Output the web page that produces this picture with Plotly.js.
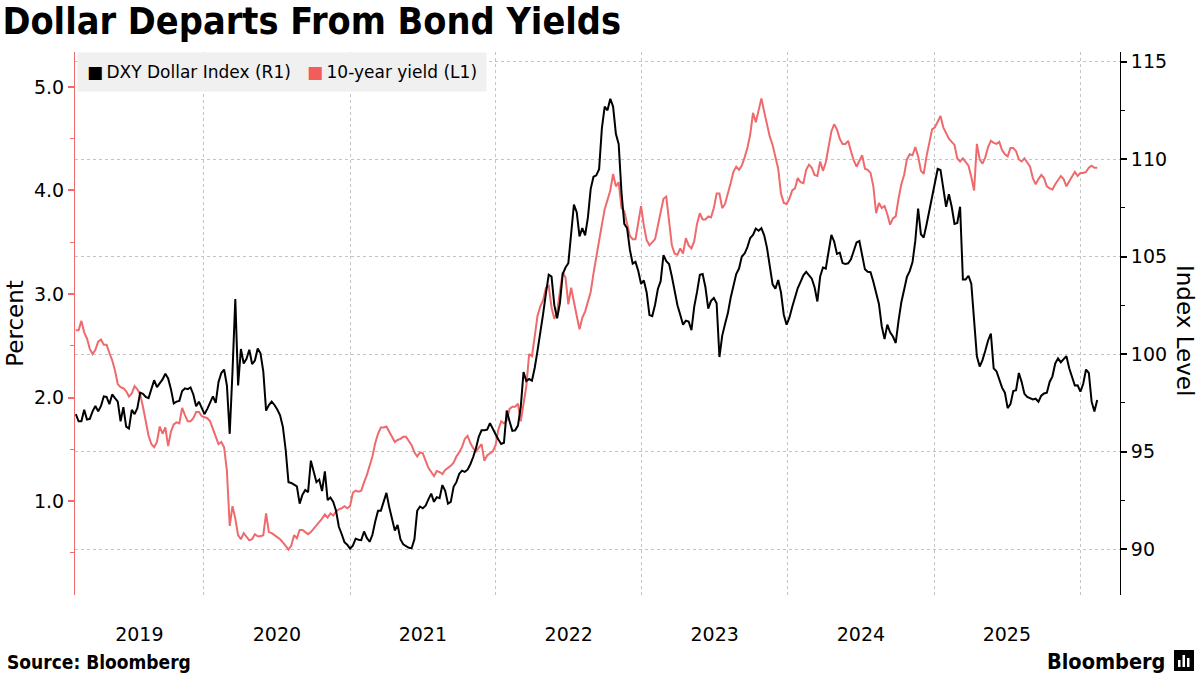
<!DOCTYPE html>
<html><head><meta charset="utf-8">
<script src="https://cdn.plot.ly/plotly-3.0.1.min.js"></script>
<style>html,body{margin:0;padding:0;background:#fff;}#chart{width:1200px;height:675px;}</style>
</head><body><div id="chart"></div>
<script>
// Weekly observations, first one on this date
const seriesStart = '2019-02-15';
const weekStepDays = 7;

// DXY Dollar Index (right axis), weekly
const dxyValues = [
96.92,96.55,96.55,97.14,96.64,96.68,97.06,97.34,97.06,97.34,
97.83,97.80,97.43,97.93,97.74,97.56,96.55,97.28,96.28,96.18,
97.14,96.92,97.23,98.02,97.96,97.80,97.74,98.20,98.66,98.31,
98.48,98.70,98.99,98.75,98.20,97.47,97.56,97.60,98.11,98.24,
98.20,98.29,97.93,97.32,97.56,97.19,96.92,97.19,97.52,97.83,
97.50,98.57,99.03,99.21,98.39,95.91,99.12,102.83,98.39,100.26,
99.52,99.76,100.22,99.49,99.67,100.29,100.04,99.12,97.10,97.38,
97.56,97.39,97.16,96.86,96.26,95.08,93.43,93.39,93.30,93.21,
92.33,92.79,93.03,92.92,94.53,93.98,93.43,93.56,92.97,93.98,
92.51,92.64,92.42,91.96,91.14,90.77,90.35,90.22,90.02,90.17,
90.53,90.48,90.46,90.90,90.57,90.37,90.73,91.41,91.96,91.96,
92.40,92.88,92.15,91.56,90.95,91.23,90.50,90.24,90.13,90.06,
90.04,90.50,91.96,92.18,92.09,92.22,92.55,92.84,92.42,92.66,
92.61,93.28,92.99,92.33,92.42,93.19,93.43,93.85,94.02,93.96,
94.07,94.35,94.72,95.17,95.76,96.09,96.09,96.12,96.46,96.14,
95.89,95.62,95.39,95.45,97.10,96.55,96.06,96.09,96.33,97.28,
99.08,98.61,98.72,98.64,99.30,100.18,101.01,102.06,103.12,104.07,
103.98,102.51,101.84,102.61,104.11,104.44,104.66,106.24,107.67,107.28,
106.04,106.46,106.09,107.01,108.48,109.10,109.17,109.49,111.60,112.70,
112.51,113.10,112.70,111.30,110.77,108.29,106.68,106.46,105.36,104.64,
104.73,104.26,103.60,103.78,103.16,102.00,101.95,102.53,103.34,103.74,
105.08,104.77,104.62,103.98,103.23,102.51,102.02,101.51,101.71,101.67,
101.23,102.44,103.19,104.07,104.11,103.43,102.33,102.73,102.88,102.61,
99.85,100.95,101.54,102.09,102.88,103.56,104.11,104.39,105.01,105.16,
105.49,105.96,106.11,106.44,106.33,106.46,106.09,105.45,104.62,103.58,
103.36,103.80,103.16,102.02,101.51,101.87,102.42,102.88,103.39,103.71,
104.04,104.22,104.07,103.87,103.43,102.70,103.98,104.44,104.39,105.36,
106.11,105.78,105.14,105.21,104.68,104.62,104.66,104.86,105.27,105.73,
105.80,105.05,104.35,104.22,104.20,103.71,103.08,102.57,101.43,100.77,
101.51,101.12,100.90,100.57,101.71,102.66,103.30,103.96,104.26,104.72,
105.82,107.47,106.15,105.98,106.64,107.32,108.02,108.84,109.50,109.45,
108.39,107.56,108.20,107.56,106.68,106.73,107.56,103.83,103.83,104.02,
103.61,101.96,99.89,99.36,99.69,100.17,100.70,101.05,99.27,99.12,
98.72,98.28,98.02,97.23,97.43,98.11,98.15,99.03,98.57,97.96,
97.80,97.74,97.67,97.71,97.56,97.87,97.98,98.02,98.57,98.86,
99.52,99.78,99.58,99.74,99.89,99.27,98.79,98.39,98.40,98.07,
98.48,99.21,99.03,97.56,97.06,97.65
];

// US 10-year Treasury yield, percent (left axis), weekly
const yieldValues = [
2.65,2.65,2.74,2.63,2.57,2.47,2.42,2.46,2.54,2.56,
2.51,2.51,2.43,2.36,2.26,2.13,2.10,2.09,2.06,2.01,
2.04,2.11,2.08,2.03,1.91,1.77,1.63,1.55,1.52,1.57,
1.72,1.65,1.71,1.53,1.67,1.74,1.76,1.75,1.90,1.83,
1.77,1.77,1.80,1.86,1.86,1.82,1.81,1.80,1.77,1.69,
1.62,1.55,1.57,1.52,1.29,0.76,0.95,0.83,0.67,0.63,
0.69,0.66,0.62,0.63,0.68,0.66,0.66,0.67,0.88,0.70,
0.69,0.67,0.65,0.63,0.60,0.56,0.53,0.57,0.67,0.64,
0.72,0.72,0.70,0.68,0.70,0.73,0.76,0.79,0.83,0.87,
0.84,0.88,0.86,0.90,0.92,0.93,0.95,0.93,0.95,1.08,
1.10,1.09,1.10,1.18,1.25,1.34,1.43,1.56,1.65,1.71,
1.71,1.72,1.67,1.62,1.57,1.59,1.60,1.62,1.62,1.58,
1.54,1.47,1.43,1.47,1.46,1.39,1.32,1.28,1.24,1.29,
1.28,1.26,1.30,1.32,1.34,1.37,1.43,1.47,1.52,1.60,
1.63,1.56,1.51,1.48,1.52,1.55,1.39,1.44,1.46,1.48,
1.54,1.69,1.77,1.75,1.78,1.89,1.91,1.91,1.94,1.77,
1.94,2.11,2.42,2.40,2.59,2.79,2.88,2.94,3.06,3.08,
2.87,2.76,2.83,3.01,3.21,3.16,2.90,3.06,2.94,2.79,
2.66,2.77,2.83,2.92,3.02,3.20,3.36,3.55,3.67,3.82,
3.91,4.00,4.16,4.04,4.08,3.83,3.80,3.69,3.56,3.53,
3.53,3.69,3.85,3.66,3.52,3.47,3.50,3.53,3.66,3.78,
3.92,3.94,3.70,3.47,3.39,3.38,3.44,3.39,3.54,3.47,
3.44,3.51,3.68,3.78,3.72,3.72,3.75,3.74,3.83,3.97,
3.97,3.83,3.87,3.96,4.07,4.18,4.23,4.20,4.24,4.32,
4.41,4.54,4.75,4.66,4.79,4.89,4.76,4.63,4.52,4.44,
4.32,4.21,3.97,3.88,3.87,3.92,4.00,4.02,4.12,4.08,
4.07,4.20,4.25,4.22,4.15,4.14,4.28,4.19,4.27,4.44,
4.57,4.64,4.59,4.50,4.45,4.45,4.48,4.38,4.29,4.23,
4.29,4.34,4.21,4.20,4.17,4.04,3.78,3.88,3.83,3.85,
3.77,3.67,3.73,3.75,3.92,4.06,4.15,4.30,4.35,4.34,
4.42,4.33,4.19,4.16,4.33,4.47,4.59,4.61,4.67,4.72,
4.61,4.56,4.50,4.47,4.44,4.31,4.28,4.31,4.28,4.24,
4.13,4.00,4.45,4.30,4.26,4.32,4.42,4.48,4.46,4.45,
4.47,4.39,4.35,4.33,4.41,4.41,4.38,4.30,4.28,4.31,
4.27,4.23,4.12,4.06,4.11,4.15,4.12,4.04,4.02,4.01,
4.06,4.10,4.14,4.11,4.04,4.09,4.14,4.18,4.14,4.17,
4.17,4.18,4.22,4.24,4.22,4.22
];

// x-axis year labels (centred on the visible part of each year)
const yearLabels = ['2019','2020','2021','2022','2023','2024','2025'];
const yearLabelDates = ['2019-07-24','2020-07-02','2021-07-02','2022-07-02','2023-07-02','2024-07-02','2025-07-02'];
const xRange = ['2019-02-13','2026-04-11'];
const yieldTicks = [1, 2, 3, 4, 5];
const yieldRange = [0.092, 5.338];
const dxyTicks = [90, 95, 100, 105, 110, 115];
const dxyRange = [87.64, 115.50];

const seriesNames = ['DXY Dollar Index (R1)', '10-year yield (L1)'];
const titleText = 'Dollar Departs From Bond Yields';
const sourceText = 'Source: Bloomberg';

// build weekly date index
const startMs = Date.parse(seriesStart + 'T00:00:00Z');
const dates = dxyValues.map((_, i) => new Date(startMs + i * weekStepDays * 86400000).toISOString().slice(0, 10));

const FONT = 'DejaVu Sans, Verdana, sans-serif';
const TITLEFONT = 'DejaVu Sans Condensed, DejaVu Sans, sans-serif';
const RED = '#ee6a6c';
const GRID = '#c4c4c4';

const traces = [
  {x: dates, y: yieldValues, name: seriesNames[1], type: 'scatter', mode: 'lines',
   xaxis: 'x', yaxis: 'y', line: {color: RED, width: 2}, hoverinfo: 'skip'},
  {x: dates, y: dxyValues, name: seriesNames[0], type: 'scatter', mode: 'lines',
   xaxis: 'x2', yaxis: 'y2', line: {color: '#000000', width: 2}, hoverinfo: 'skip'}
];

const W = 1200, H = 675, L = 75, R = 80, T = 52, B = 80;
const pw = W - L - R, ph = H - T - B;
const px = v => (v - L) / pw;      // pixel -> paper x
const py = v => (H - B - v) / ph;  // pixel -> paper y

const layout = {
  width: W, height: H,
  margin: {l: L, r: R, t: T, b: B, pad: 0},
  paper_bgcolor: '#ffffff', plot_bgcolor: '#ffffff',
  showlegend: false,
  font: {family: FONT, color: '#000'},
  title: {text: titleText, x: 0.002, xref: 'container', xanchor: 'left',
          y: 1 - 8 / H, yref: 'container', yanchor: 'top',
          font: {family: TITLEFONT, size: 37.5, weight: 'bold', color: '#000'}},
  // base x axis: yearly grid lines only
  xaxis: {type: 'date', range: xRange, anchor: 'y',
          tick0: '2020-01-01', dtick: 'M12', ticks: '', showticklabels: false,
          showgrid: true, gridcolor: GRID, gridwidth: 1, griddash: '3px,3px',
          showline: false, zeroline: false, fixedrange: true},
  // overlay x axis: year labels
  xaxis2: {type: 'date', overlaying: 'x', anchor: 'y2', side: 'bottom', range: xRange,
           tickvals: yearLabelDates, ticktext: yearLabels,
           ticks: '', showgrid: false, showline: false, zeroline: false,
           tickfont: {family: FONT, size: 19, color: '#000'}, ticklabelstandoff: 26,
           fixedrange: true},
  yaxis: {range: yieldRange, tickvals: yieldTicks, tickformat: '.1f', anchor: 'x',
          showgrid: false, zeroline: false, showline: true, linecolor: RED, linewidth: 1,
          ticks: 'outside', ticklen: 6, tickwidth: 2, tickcolor: RED,
          minor: {dtick: 0.5, tick0: 0, ticks: 'outside', ticklen: 4, tickwidth: 1, tickcolor: RED},
          tickfont: {family: FONT, size: 19, color: '#000'},
          title: {text: 'Percent', font: {family: FONT, size: 23, color: '#000'}, standoff: 3},
          fixedrange: true},
  yaxis2: {range: dxyRange, tickvals: dxyTicks, overlaying: 'y', side: 'right', anchor: 'x2',
           showgrid: true, gridcolor: GRID, gridwidth: 1, griddash: '3px,3px',
           zeroline: false, showline: true, linecolor: '#000', linewidth: 1,
           ticks: 'outside', ticklen: 6, tickwidth: 2, tickcolor: '#000',
           minor: {dtick: 2.5, tick0: 0, ticks: 'outside', ticklen: 4, tickwidth: 1, tickcolor: '#000'},
           tickfont: {family: FONT, size: 19, color: '#000'}, fixedrange: true},
  annotations: [
    {xref: 'paper', yref: 'paper', x: px(77), y: 1, xanchor: 'left', yanchor: 'top',
     showarrow: false, bgcolor: '#f0f0f0', borderpad: 9, align: 'left',
     font: {family: FONT, size: 17, color: '#000'},
     text: '<span style="color:#000000">■</span>\u2009' + seriesNames[0] +
           '\u00a0\u00a0\u00a0<span style="color:#f25c5c">■</span>\u2009' + seriesNames[1]},
    {xref: 'paper', yref: 'paper', x: px(1185), y: py(330), xanchor: 'center', yanchor: 'middle',
     showarrow: false, textangle: 90, text: 'Index Level',
     font: {family: FONT, size: 23, color: '#000'}},
    {xref: 'paper', yref: 'paper', x: px(5), y: py(662), xanchor: 'left', yanchor: 'middle',
     showarrow: false, text: sourceText,
     font: {family: TITLEFONT, size: 19, weight: 'bold', color: '#000'}},
    {xref: 'paper', yref: 'paper', x: px(1167), y: py(661), xanchor: 'right', yanchor: 'middle',
     showarrow: false, text: 'Bloomberg',
     font: {family: TITLEFONT, size: 21.5, weight: 'bold', color: '#000'}}
  ],
  shapes: [
    {type: 'rect', xref: 'paper', yref: 'paper', x0: px(1174), x1: px(1194), y0: py(671), y1: py(650),
     fillcolor: '#000', line: {width: 0}},
    {type: 'rect', xref: 'paper', yref: 'paper', x0: px(1178), x1: px(1180.5), y0: py(667), y1: py(660),
     fillcolor: '#fff', line: {width: 0}},
    {type: 'rect', xref: 'paper', yref: 'paper', x0: px(1182.5), x1: px(1185), y0: py(667), y1: py(655),
     fillcolor: '#fff', line: {width: 0}},
    {type: 'rect', xref: 'paper', yref: 'paper', x0: px(1187), x1: px(1189.5), y0: py(667), y1: py(658),
     fillcolor: '#fff', line: {width: 0}}
  ]
};

Plotly.newPlot('chart', traces, layout, {displayModeBar: false, staticPlot: true});
</script>
</body></html>
